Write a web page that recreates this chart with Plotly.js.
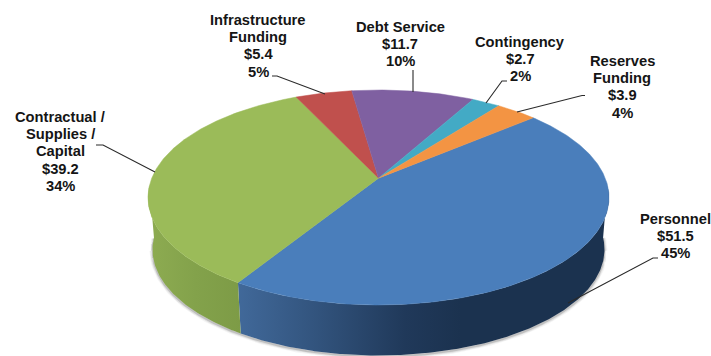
<!DOCTYPE html>
<html>
<head>
<meta charset="utf-8">
<script src="https://cdn.plot.ly/plotly-3.0.1.min.js"></script>
<style>html,body{margin:0;padding:0;background:#fff}#chart{width:711px;height:356px}</style>
</head>
<body>
<div id="chart"></div>
<script>
// Budget breakdown, $ millions, clockwise from the Personnel slice
const categories = ["Personnel", "Contractual / Supplies / Capital", "Infrastructure Funding", "Debt Service", "Contingency", "Reserves Funding"];
const amounts = [51.5, 39.2, 5.4, 11.7, 2.7, 3.9];
const percentLabels = ["45%", "34%", "5%", "10%", "2%", "4%"];
const topColors = ["#4a7ebb", "#9bbb59", "#c0504d", "#7f60a1", "#43aac5", "#f39443"];

// Multi-line label text and where each label and its leader line sit
const labelLines = [
  ["Personnel"],
  ["Contractual /", "Supplies /", "Capital"],
  ["Infrastructure", "Funding"],
  ["Debt Service"],
  ["Contingency"],
  ["Reserves", "Funding"]
];
const labelFirstLine = [[675, 219], [60, 117], [258, 20], [400, 26.5], [520, 42], [622, 61]];
const labelLineStep = 17.2;
const leaderPaths = [
  [[658, 258], [653, 258], [568, 303]],
  [[96, 145], [103, 145], [155, 172]],
  [[272, 76], [277, 76], [325, 94]],
  [[413, 70], [413, 92]],
  [[507, 81], [502, 81], [486, 103]],
  [[585, 95.5], [582, 95.5], [517, 112]]
];

// Pie tilted in perspective: the top face is an ellipse whose hub sits behind its centre
const topRim = {cx: 378.5, cy: 197.5, rx: 230.5, ry: 107.5};
const baseRim = {cx: 378.5, cy: 249.5, rx: 226, ry: 106};
const hubShift = 0.18;
const startAngle = 49.6;

// Projects an angle on the flat pie (degrees clockwise from north) to the unit disk
function project(deg) {
  const t = deg * Math.PI / 180;
  const u = Math.sin(t), v = Math.cos(t);
  const d = 1 + hubShift * v;
  return {u: u * Math.sqrt(1 - hubShift * hubShift) / d, v: (v + hubShift) / d};
}
const onRim = (e, p) => [e.cx + e.rx * p.u, e.cy - e.ry * p.v];

function sweep(a0, a1) {
  const n = Math.max(2, Math.ceil((a1 - a0) / 0.5));
  const out = [];
  for (let i = 0; i <= n; i++) out.push(a0 + (a1 - a0) * i / n);
  return out;
}

const total = amounts.reduce((a, b) => a + b, 0);
const spans = [];
let running = startAngle;
amounts.forEach(a => { const e = running + a / total * 360; spans.push([running, e]); running = e; });

const traces = [];

// Soft shadow hugging the lower edge of the pie
const shadowArc = sweep(startAngle, startAngle + 360).map(project).filter(p => p.v < 0.12).sort((a, b) => b.u - a.u);
[[6, 0.06], [4, 0.1], [2, 0.2]].forEach(([w, alpha]) => {
  traces.push({
    type: "scatter", mode: "lines", hoverinfo: "skip",
    x: shadowArc.map(p => onRim(baseRim, p)[0]),
    y: shadowArc.map(p => onRim(baseRim, p)[1] + 1),
    line: {color: "rgba(60,60,60," + alpha + ")", width: w}
  });
});

// Side walls of the slices facing the viewer
const wallGradients = {
  0: {start: 237, stop: 610, colorscale: [[0, "#41699a"], [0.2, "#33557f"], [0.45, "#20395a"], [0.6, "#1b324f"], [1, "#1b324f"]]},
  1: {start: 150, stop: 241, colorscale: [[0, "#8dab51"], [0.5, "#83a24b"], [1, "#7d9b46"]]}
};
Object.keys(wallGradients).forEach(key => {
  const i = +key;
  const pts = sweep(spans[i][0], spans[i][1]).map(project).filter(p => p.v < 0.12);
  const upper = pts.map(p => onRim(topRim, p));
  const lower = pts.map(p => onRim(baseRim, p)).reverse();
  const ring = upper.concat(lower);
  traces.push({
    type: "scatter", mode: "lines", fill: "toself", hoverinfo: "skip",
    x: ring.map(p => p[0]), y: ring.map(p => p[1]),
    line: {width: 0},
    fillgradient: Object.assign({type: "horizontal"}, wallGradients[key])
  });
});

// Top face of every slice
const hub = onRim(topRim, {u: 0, v: hubShift});
amounts.forEach((a, i) => {
  const rim = sweep(spans[i][0], spans[i][1]).map(deg => onRim(topRim, project(deg)));
  const ring = [hub].concat(rim, [hub]);
  traces.push({
    type: "scatter", mode: "lines", fill: "toself", name: categories[i],
    text: "$" + a + " (" + percentLabels[i] + ")", hoverinfo: "name+text",
    x: ring.map(p => p[0]), y: ring.map(p => p[1]),
    line: {color: topColors[i], width: 0.5},
    fillcolor: topColors[i]
  });
});

// One annotation per text line keeps the tight line spacing of the labels
const annotations = [];
categories.forEach((c, i) => {
  labelLines[i].concat(["$" + amounts[i].toFixed(1), percentLabels[i]]).forEach((line, k) => {
    annotations.push({
      xref: "x", yref: "y", x: labelFirstLine[i][0], y: labelFirstLine[i][1] + k * labelLineStep,
      xanchor: "center", yanchor: "middle", align: "center", showarrow: false,
      text: line,
      font: {family: "Liberation Sans, Arial, sans-serif", size: 14.7, color: "#151515", weight: 700}
    });
  });
});

const shapes = leaderPaths.map(path => ({
  type: "path", xref: "x", yref: "y",
  path: path.map((p, i) => (i ? "L" : "M") + p[0] + "," + p[1]).join(" "),
  line: {color: "#2a2a2a", width: 1.1}
}));

Plotly.newPlot("chart", traces, {
  width: 711, height: 356,
  margin: {l: 0, r: 0, t: 0, b: 0},
  paper_bgcolor: "#fff", plot_bgcolor: "#fff",
  showlegend: false,
  xaxis: {range: [0, 711], visible: false, fixedrange: true},
  yaxis: {range: [356, 0], visible: false, fixedrange: true},
  annotations, shapes
}, {displayModeBar: false, staticPlot: true});
</script>
</body>
</html>
